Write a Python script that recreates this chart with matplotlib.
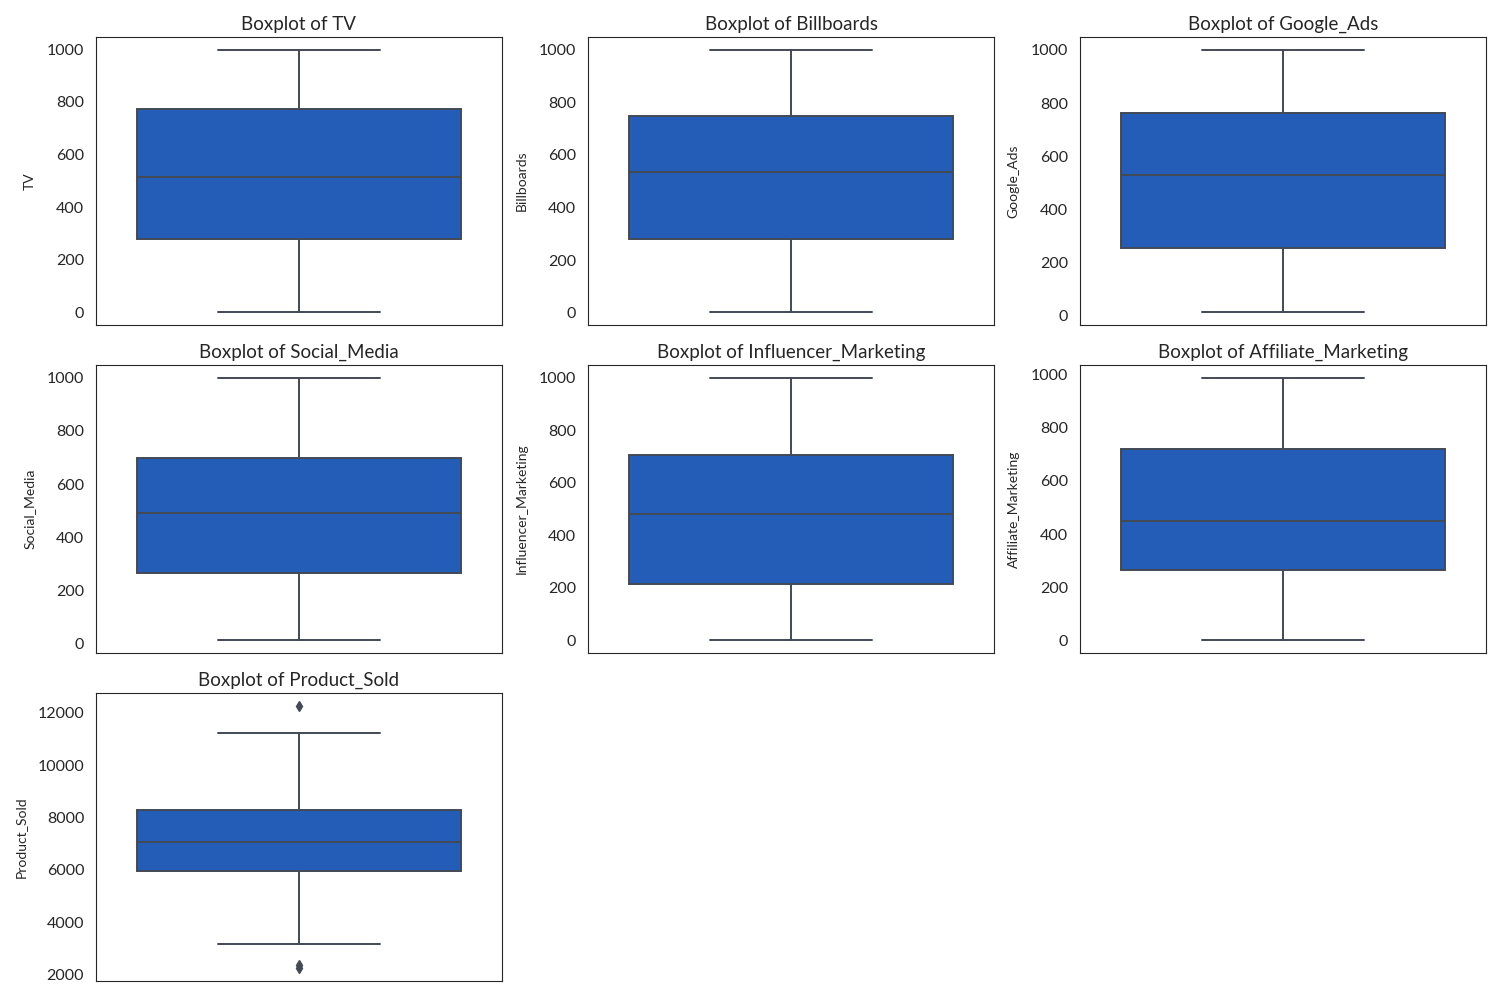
import matplotlib
matplotlib.use("Agg")
import matplotlib.pyplot as plt
import seaborn as sns

# box summary per column
columns = ["TV", "Billboards", "Google_Ads", "Social_Media",
           "Influencer_Marketing", "Affiliate_Marketing", "Product_Sold"]
whislo = [1, 3, 15, 15, 1, 2, 3165]
q1 = [277, 280, 256, 268, 213, 266, 5945]
median = [513, 534, 530, 491, 482, 449, 7076]
q3 = [772, 746, 763, 698, 705, 721, 8295]
whishi = [997, 998, 999, 998, 999, 987, 11238]
fliers = [[], [], [], [], [], [], [12255, 2370, 2260]]

BOX = "#235db8"
LINE = "#434a55"

sns.set_style("white")
plt.rcParams["font.family"] = ["Lato", "DejaVu Sans"]

fig, axes = plt.subplots(3, 3, figsize=(15, 10))
axes = axes.flatten()

for i, col in enumerate(columns):
    ax = axes[i]
    stats = [dict(whislo=whislo[i], q1=q1[i], med=median[i], q3=q3[i],
                  whishi=whishi[i], fliers=fliers[i], label="")]
    ax.bxp(stats, positions=[0], widths=0.8, patch_artist=True, capwidths=0.4,
           boxprops=dict(facecolor=BOX, edgecolor=LINE, linewidth=1.4),
           medianprops=dict(color=LINE, linewidth=1.4),
           whiskerprops=dict(color=LINE, linewidth=1.4),
           capprops=dict(color=LINE, linewidth=1.4),
           flierprops=dict(marker="d", markersize=5, markerfacecolor=LINE,
                           markeredgecolor=LINE))
    ax.set_xlim(-0.5, 0.5)
    ax.set_xticks([])
    ax.set_title(f"Boxplot of {col}", fontsize=13.5, pad=5)
    ax.set_ylabel(col, fontsize=10, labelpad=8)
    ax.tick_params(axis="y", labelsize=11.5, colors="#262626", pad=5)
    for s in ax.spines.values():
        s.set_color("#262626")

for ax in axes[len(columns):]:
    ax.axis("off")

fig.subplots_adjust(left=0.064, right=0.9907, top=0.963, bottom=0.019,
                    wspace=0.212, hspace=0.139)
fig.savefig("out.png", dpi=100)
plt.close(fig)
